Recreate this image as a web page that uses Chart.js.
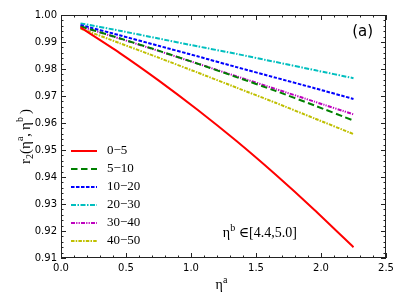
<!DOCTYPE html>
<html><head><meta charset="utf-8">
<script src="https://cdn.jsdelivr.net/npm/chart.js@4"></script>
<style>html,body{margin:0;padding:0;background:#fff;}#wrap{width:407px;height:305px;}</style>
</head><body><div id="wrap"><canvas id="c" width="407" height="305"></canvas></div>
<script>
const etaA = [0.15, 0.45, 0.75, 1.05, 1.35, 1.65, 1.95, 2.25];
const labels = ['0\u22125', '5\u221210', '10\u221220', '20\u221230', '30\u221240', '40\u221250'];
const r0_5   = [0.9954, 0.9860, 0.9758, 0.9649, 0.9533, 0.9409, 0.9278, 0.9140];
const r5_10  = [0.9958, 0.9914, 0.9868, 0.9820, 0.9770, 0.9719, 0.9665, 0.9609];
const r10_20 = [0.9963, 0.9925, 0.9886, 0.9847, 0.9807, 0.9768, 0.9729, 0.9689];
const r20_30 = [0.9969, 0.9942, 0.9913, 0.9884, 0.9856, 0.9826, 0.9796, 0.9766];
const r30_40 = [0.9958, 0.9913, 0.9867, 0.9820, 0.9773, 0.9726, 0.9679, 0.9632];
const r40_50 = [0.9950, 0.9896, 0.9842, 0.9787, 0.9731, 0.9675, 0.9617, 0.9559];
const xTicks = [0.0, 0.5, 1.0, 1.5, 2.0, 2.5];
const yTicks = [0.91, 0.92, 0.93, 0.94, 0.95, 0.96, 0.97, 0.98, 0.99, 1.00];

const series = [r0_5, r5_10, r10_20, r20_30, r30_40, r40_50];
const colors = ['#ff0000', '#008000', '#0000ff', '#00bfbf', '#bf00bf', '#bfbf00'];
const dashes = [[], [6.5, 3.5], [3.5, 1.5], [5, 1.5, 1.5, 1.5], [4, 1.2, 1.2, 1.2, 1.2, 1.2], [3.5, 1.2, 1.5, 1.2]];

const datasets = series.map((s, i) => ({
  label: labels[i],
  data: etaA.map((x, j) => ({x: x, y: s[j]})),
  borderColor: colors[i],
  backgroundColor: colors[i],
  borderWidth: 2,
  borderDash: dashes[i],
  pointRadius: 0,
  tension: 0.2,
  fill: false
}));

const SERIF = '"Liberation Serif", "DejaVu Serif", serif';
function rich(ctx, parts, x, y, align) {
  let w = 0;
  parts.forEach(p => { ctx.font = p.s + 'px ' + SERIF; w += ctx.measureText(p.t).width; });
  let cx = align === 'center' ? x - w / 2 : x;
  ctx.textAlign = 'left';
  ctx.textBaseline = 'alphabetic';
  parts.forEach(p => {
    ctx.font = p.s + 'px ' + SERIF;
    ctx.fillText(p.t, cx, y + (p.dy || 0));
    cx += ctx.measureText(p.t).width;
  });
}

const framePlugin = {
  id: 'frame',
  afterDraw(chart) {
    const ctx = chart.ctx, a = chart.chartArea;
    const xs = chart.scales.x, ys = chart.scales.y;
    ctx.save();
    ctx.strokeStyle = '#222';
    ctx.lineWidth = 1;
    ctx.strokeRect(a.left + 0.5, a.top + 0.5, a.right - a.left - 1, a.bottom - a.top - 1);
    ctx.beginPath();
    for (let k = 0; k <= 25; k++) {
      const v = k * 0.1;
      const px = Math.round(xs.getPixelForValue(v)) + 0.5;
      const len = (k % 5 === 0) ? 5 : 2.5;
      ctx.moveTo(px, a.bottom); ctx.lineTo(px, a.bottom - len);
      ctx.moveTo(px, a.top); ctx.lineTo(px, a.top + len);
    }
    for (let k = 0; k <= 45; k++) {
      const v = 0.91 + k * 0.002;
      const py = Math.round(ys.getPixelForValue(v)) + 0.5;
      const len = (k % 5 === 0) ? 5 : 2.5;
      ctx.moveTo(a.left, py); ctx.lineTo(a.left + len, py);
      ctx.moveTo(a.right, py); ctx.lineTo(a.right - len, py);
    }
    ctx.stroke();

    // legend
    chart.data.datasets.forEach((d, i) => {
      const y = 151 + i * 18;
      const x0 = a.left + 10;
      ctx.beginPath();
      ctx.strokeStyle = d.borderColor;
      ctx.lineWidth = 2;
      ctx.setLineDash(d.borderDash);
      ctx.moveTo(x0, y); ctx.lineTo(x0 + 26, y);
      ctx.stroke();
      ctx.setLineDash([]);
      ctx.fillStyle = '#000';
      ctx.font = '13px ' + SERIF;
      ctx.textAlign = 'left';
      ctx.textBaseline = 'middle';
      ctx.fillText(d.label, x0 + 36, y);
    });

    ctx.fillStyle = '#000';
    ctx.font = '15px "DejaVu Sans", sans-serif';
    ctx.textAlign = 'center';
    ctx.textBaseline = 'middle';
    ctx.fillText('(a)', xs.getPixelForValue(2.32), ys.getPixelForValue(0.9935));

    rich(ctx, [{t: '\u03b7', s: 14}, {t: 'b', s: 10, dy: -6}, {t: ' \u2208[4.4,5.0]', s: 14}],
         xs.getPixelForValue(1.245), ys.getPixelForValue(0.9195) + 5, 'left');

    rich(ctx, [{t: '\u03b7', s: 14}, {t: 'a', s: 10, dy: -6}], (a.left + a.right) / 2 - 2, 289, 'center');

    ctx.save();
    ctx.translate(30, (a.top + a.bottom) / 2);
    ctx.rotate(-Math.PI / 2);
    rich(ctx, [{t: 'r', s: 15}, {t: '2', s: 10, dy: 3}, {t: '(\u03b7', s: 15}, {t: 'a', s: 10, dy: -7},
               {t: ',\u2009\u03b7', s: 15}, {t: 'b', s: 10, dy: -7}, {t: '\u2009)', s: 15}], 0, 0, 'center');
    ctx.restore();
    ctx.restore();
  }
};

new Chart(document.getElementById('c'), {
  type: 'line',
  data: { datasets: datasets },
  options: {
    responsive: false,
    animation: false,
    layout: { padding: { left: 0, top: 15, right: 21, bottom: 0 } },
    plugins: { legend: { display: false }, tooltip: { enabled: false } },
    scales: {
      x: {
        type: 'linear', min: 0, max: 2.5,
        afterBuildTicks: s => { s.ticks = xTicks.map(v => ({value: v})); },
        afterFit: s => { s.height = 47; },
        grid: { display: false, drawTicks: false },
        border: { display: false },
        ticks: { padding: 4, color: '#000', font: { family: '"DejaVu Sans", sans-serif', size: 10 },
                 callback: v => Number(v).toFixed(1), maxRotation: 0 }
      },
      y: {
        type: 'linear', min: 0.91, max: 1.0,
        afterBuildTicks: s => { s.ticks = yTicks.map(v => ({value: v})); },
        afterFit: s => { s.width = 61; },
        grid: { display: false, drawTicks: false },
        border: { display: false },
        ticks: { padding: 4, color: '#000', font: { family: '"DejaVu Sans", sans-serif', size: 10 },
                 callback: v => Number(v).toFixed(2) }
      }
    }
  },
  plugins: [framePlugin]
});
</script></body></html>
